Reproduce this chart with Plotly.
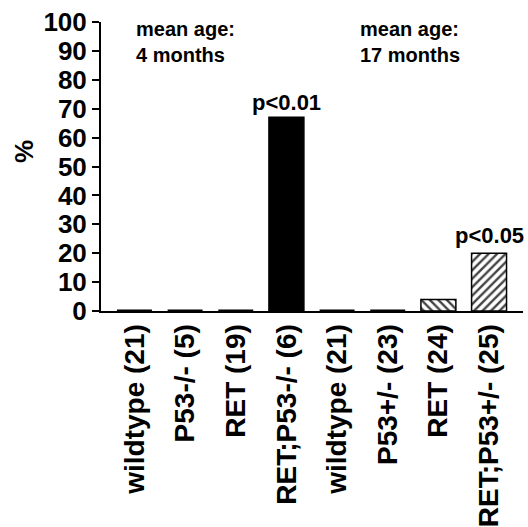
import plotly.graph_objects as go

categories = ["wildtype (21)", "P53-/- (5)", "RET (19)", "RET;P53-/- (6)",
              "wildtype (21)", "P53+/- (23)", "RET (24)", "RET;P53+/- (25)"]
values = [0, 0, 0, 67, 0, 0, 4, 20]
fills = ["black", "black", "black", "black", "black", "black", "white", "white"]
patterns = ["", "", "", "", "", "", "\\", "/"]
pvals = [(3, 67, "p&lt;0.01", 0), (7, 20, "p&lt;0.05", 3)]
yticks = list(range(0, 101, 10))

xpos = list(range(len(categories)))
FONT = "Liberation Sans, Arial, sans-serif"
line_w = [3 if v == 0 else 1.5 for v in values]

fig = go.Figure()
fig.add_trace(go.Bar(
    x=xpos, y=values, width=0.69,
    marker=dict(color=fills,
                line=dict(color="black", width=line_w),
                pattern=dict(shape=patterns, fgcolor="black", bgcolor="white",
                             fgopacity=1, size=6, solidity=0.4)),
    showlegend=False,
))

for xi, yv, txt, ys in pvals:
    fig.add_annotation(x=xi, y=yv, xref="x", yref="y", text=txt, showarrow=False,
                       yanchor="bottom", yshift=ys,
                       font=dict(family=FONT, size=22, color="black", weight="bold"))

for xp, txt in [(0.078, "mean age:<br>4 months"), (0.61, "mean age:<br>17 months")]:
    fig.add_annotation(x=xp, y=1.02, xref="paper", yref="paper",
                       text=txt, showarrow=False, align="left",
                       xanchor="left", yanchor="top",
                       font=dict(family=FONT, size=20, color="black", weight="bold"))

fig.add_annotation(x=(24 - 101) / 422, y=(311 - 152) / 289, xref="paper", yref="paper",
                   xanchor="center", yanchor="middle",
                   text="%", showarrow=False, textangle=-90,
                   font=dict(family=FONT, size=26, color="black", weight="bold"))

fig.update_layout(
    width=528, height=527,
    margin=dict(l=101, r=5, t=22, b=216, autoexpand=False),
    plot_bgcolor="white", paper_bgcolor="white",
    font=dict(family=FONT, color="black"),
)
fig.update_xaxes(
    range=[-0.66, 7.67], tickmode="array", tickvals=xpos, ticktext=categories,
    tickangle=-90, showline=True, linecolor="black", linewidth=2,
    ticks="", showgrid=False, zeroline=False, automargin=False,
    tickfont=dict(family=FONT, size=28, color="black", weight="bold"),
)
fig.update_yaxes(
    range=[0, 100], tickmode="array", tickvals=yticks,
    showline=True, linecolor="black", linewidth=2,
    ticks="outside", ticklen=7, tickwidth=2, tickcolor="black",
    showgrid=False, zeroline=False, automargin=False,
    tickfont=dict(family=FONT, size=26, color="black", weight="bold"),
)

fig.write_html("out.html")
